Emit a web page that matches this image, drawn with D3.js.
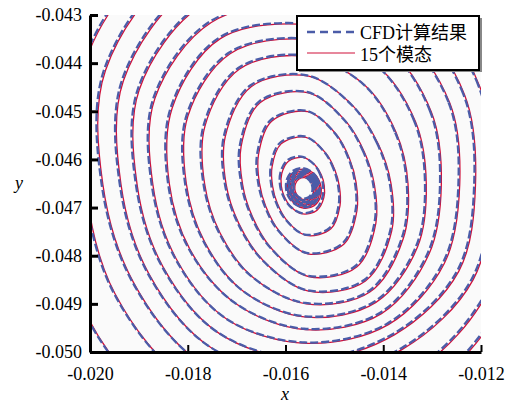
<!DOCTYPE html>
<html><head><meta charset="utf-8">
<script src="https://cdn.jsdelivr.net/npm/d3@7"></script>
<style>body{margin:0;background:#fff}</style>
</head><body>
<svg id="chart" width="509" height="403"></svg>
<script>
// axis ticks
const xTicks=[-0.020,-0.018,-0.016,-0.014,-0.012];
const yTicks=[-0.043,-0.044,-0.045,-0.046,-0.047,-0.048,-0.049,-0.050];
// contour lines, read at fixed directions (degrees) around each contour's centre
const ringAngles=[0,30,60,90,120,150,180,210,240,270,300,330];
const ringCx=[-0.015642,-0.015642,-0.015642,-0.015642,-0.015642,-0.015642,
 -0.015673,-0.015607,-0.015572,-0.015556,-0.015556,-0.015601,-0.015601,-0.015621,
 -0.015601,-0.015601,-0.015601,-0.015601,-0.015601,-0.015601];
const ringCy=[-0.046589,-0.046589,-0.046589,-0.046589,-0.046589,-0.046589,
 -0.046527,-0.046541,-0.046465,-0.046506,-0.046485,-0.046485,-0.046485,-0.046485,
 -0.046506,-0.046506,-0.046506,-0.046506,-0.046506,-0.046506];
const cfdRadii=[
 [0.000194,0.000194,0.000209,0.000228,0.000228,0.000209,0.000194,0.000194,0.000209,0.000228,0.000228,0.000209],
 [0.000225,0.000225,0.000242,0.000263,0.000263,0.000242,0.000225,0.000225,0.000242,0.000263,0.000263,0.000242],
 [0.000256,0.000256,0.000275,0.000299,0.000299,0.000275,0.000256,0.000256,0.000275,0.000299,0.000299,0.000275],
 [0.000286,0.000286,0.000308,0.000335,0.000335,0.000308,0.000286,0.000286,0.000308,0.000335,0.000335,0.000308],
 [0.000317,0.000317,0.000341,0.000371,0.000371,0.000341,0.000317,0.000317,0.000341,0.000371,0.000371,0.000341],
 [0.000348,0.000348,0.000374,0.000407,0.000407,0.000374,0.000348,0.000348,0.000374,0.000407,0.000407,0.000374],
 [0.000440,0.000440,0.000498,0.000587,0.000587,0.000498,0.000440,0.000440,0.000498,0.000587,0.000587,0.000498],
 [0.000683,0.000683,0.000803,0.001019,0.001019,0.000803,0.000683,0.000683,0.000803,0.001019,0.001019,0.000803],
 [0.000990,0.000990,0.001163,0.001476,0.001476,0.001163,0.000990,0.000990,0.001163,0.001476,0.001476,0.001163],
 [0.001348,0.001327,0.001524,0.001907,0.001972,0.001592,0.001348,0.001327,0.001524,0.001907,0.001972,0.001592],
 [0.001688,0.001648,0.001848,0.002232,0.002332,0.001965,0.001688,0.001648,0.001848,0.002232,0.002332,0.001965],
 [0.002081,0.002122,0.002371,0.002643,0.002746,0.002394,0.002081,0.002040,0.002226,0.002496,0.002600,0.002289],
 [0.002455,0.002578,0.002848,0.002995,0.003118,0.002799,0.002455,0.002406,0.002578,0.002774,0.002848,0.002627],
 [0.002783,0.002977,0.003284,0.003310,0.003478,0.003145,0.002783,0.002727,0.002866,0.003032,0.003116,0.002922],
 [0.003139,0.003390,0.003703,0.003767,0.003891,0.003578,0.003139,0.003075,0.003233,0.003296,0.003357,0.003263],
 [0.003462,0.003738,0.004086,0.004153,0.004293,0.003947,0.003462,0.003392,0.003566,0.003636,0.003601,0.003601],
 [0.003791,0.004094,0.004475,0.004550,0.004702,0.004321,0.003791,0.003716,0.003906,0.003981,0.003943,0.003943],
 [0.004162,0.004495,0.004910,0.004994,0.005160,0.004745,0.004162,0.004078,0.004286,0.004370,0.004452,0.004327],
 [0.004522,0.004884,0.005336,0.005426,0.005606,0.005201,0.004522,0.004522,0.004749,0.004794,0.004884,0.004702],
 [0.004890,0.005281,0.005770,0.005868,0.006064,0.005671,0.004988,0.005238,0.005483,0.005361,0.005281,0.005086]];
// the 15-mode reconstruction coincides with the CFD contours at this scale
const modeRadii=cfdRadii;
const seriesNames=["CFD计算结果","15个模态"];

const svg=d3.select("#chart");
const L=90,R=481,T=15,B=352;
const x=d3.scaleLinear().domain([-0.020,-0.012]).range([L,R]);
const y=d3.scaleLinear().domain([-0.050,-0.043]).range([B,T]);
svg.append("rect").attr("x",L).attr("y",T).attr("width",R-L).attr("height",B-T).attr("fill","#fafafa");
svg.append("clipPath").attr("id","c").append("rect").attr("x",L).attr("y",T).attr("width",R-L).attr("height",B-T);
const g=svg.append("g").attr("clip-path","url(#c)");
const toPts=radii=>radii.map((rs,i)=>rs.map((r,j)=>{const a=ringAngles[j]*Math.PI/180;return [ringCx[i]+r*Math.cos(a),ringCy[i]+r*Math.sin(a)];}));
const line=d3.line().x(d=>x(d[0])).y(d=>y(d[1])).curve(d3.curveCatmullRomClosed);
const blue="#4b5ca8",red="#d0103a";
g.append("g").attr("transform","translate(1.3,0.9)").selectAll("path").data(toPts(modeRadii)).enter().append("path")
 .attr("d",line).attr("fill","none").attr("stroke",red).attr("stroke-width",1.3);
g.append("g").selectAll("path").data(toPts(cfdRadii)).enter().append("path")
 .attr("d",line).attr("fill","none").attr("stroke",blue).attr("stroke-width",2.3).attr("stroke-dasharray","8,3");
const fmt=d=>d.toFixed(3);
const ax=svg.append("g").attr("transform",`translate(0,${B})`).call(d3.axisBottom(x).tickValues(xTicks).tickFormat(fmt).tickSizeInner(-7).tickSizeOuter(0).tickPadding(15));
const ay=svg.append("g").attr("transform",`translate(${L},0)`).call(d3.axisLeft(y).tickValues(yTicks).tickFormat(fmt).tickSizeInner(-8).tickSizeOuter(0).tickPadding(8));
[ax,ay].forEach(a=>{a.select(".domain").attr("stroke","#000").attr("stroke-width",3);a.selectAll("text").attr("font-family","Liberation Serif").attr("font-size",18).attr("fill","#000");});
ay.selectAll(".tick line").attr("stroke-width",3);
ax.selectAll(".tick line").attr("stroke-width",2);
svg.append("text").attr("x",285).attr("y",400).attr("font-family","Liberation Serif").attr("font-style","italic").attr("font-size",18).attr("text-anchor","middle").text("x");
svg.append("text").attr("x",19).attr("y",189).attr("font-family","Liberation Serif").attr("font-style","italic").attr("font-size",18).attr("text-anchor","middle").text("y");
const lg=svg.append("g");
lg.append("rect").attr("x",299).attr("y",18).attr("width",183).attr("height",54).attr("fill","#888");
lg.append("rect").attr("x",297).attr("y",16).attr("width",182).attr("height",54).attr("fill","#fff").attr("stroke","#000").attr("stroke-width",2);
lg.append("line").attr("x1",307).attr("x2",355).attr("y1",32).attr("y2",32).attr("stroke",blue).attr("stroke-width",2.4).attr("stroke-dasharray","8,5");
lg.append("line").attr("x1",307).attr("x2",355).attr("y1",53).attr("y2",53).attr("stroke",red).attr("stroke-width",1.2);
lg.selectAll("text.s").data(seriesNames).enter().append("text").attr("x",360).attr("y",(d,i)=>39+i*22)
 .attr("font-family","Liberation Serif, Noto Sans CJK SC").attr("font-size",18).attr("fill","#000").text(d=>d);
</script></body></html>
